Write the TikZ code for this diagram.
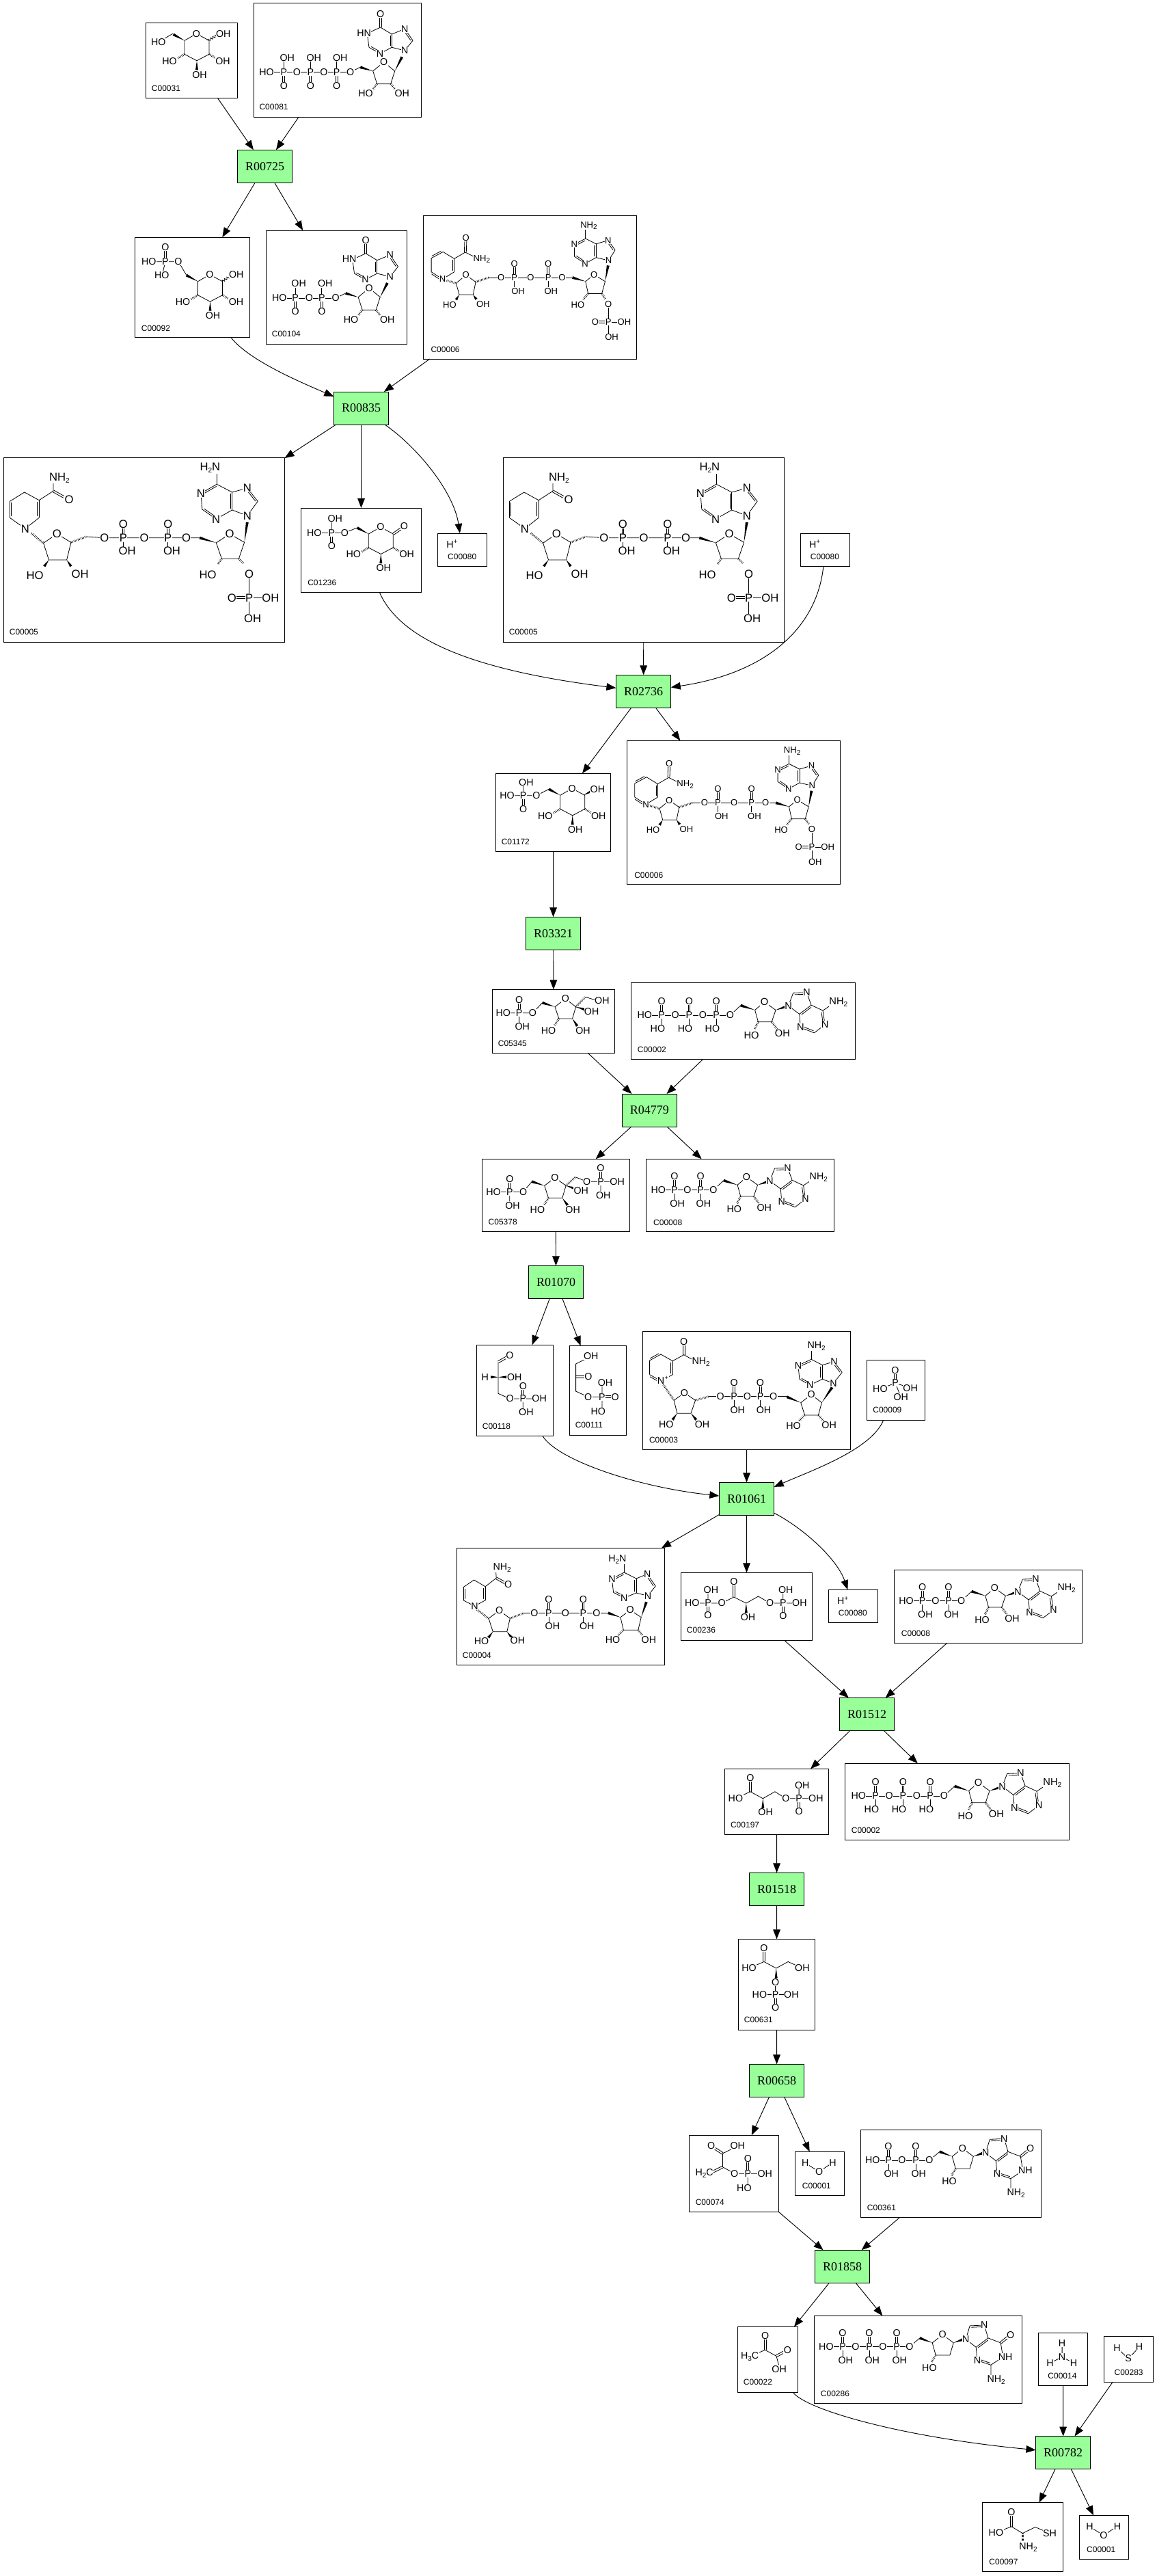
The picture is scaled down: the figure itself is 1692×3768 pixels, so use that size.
\documentclass[tikz,border=0pt]{standalone}
\usepackage{fontspec}
\setmainfont{Liberation Sans}
\newfontfamily\rxnfont{Liberation Serif}
\usetikzlibrary{arrows.meta,calc,decorations.pathmorphing}
\newcounter{atomno}
\def\atomsz{10.7}
\newcommand\sbs[1]{\raisebox{-.22em}{\fontsize{7.5}{8}\selectfont #1}}
\newcommand\sps[1]{\raisebox{.4em}{\fontsize{7.5}{8}\selectfont #1}}
\definecolor{rxngreen}{RGB}{153,255,153}
\tikzset{
  cpdbox/.style={draw,line width=.75pt,inner sep=0pt,outer sep=0pt},
  rxn/.style={draw,line width=.75pt,fill=rxngreen,inner sep=0pt,outer sep=0pt,minimum width=60.3pt,minimum height=36pt,font=\rxnfont\fontsize{13.5}{14}\selectfont},
  idlab/.style={anchor=west,inner sep=0pt,font=\fontsize{9}{10}\selectfont},
  atomlab/.style={fill=white,inner sep=.3pt,font=\fontsize{\atomsz}{\atomsz}\selectfont},
  bondln/.style={line width=.6pt},
  hashln/.style={line width=2.2pt,dash pattern=on .5pt off 1.1pt},
  rxnedge/.style={->,line width=.7pt},
  >={Triangle[length=10.5pt,width=8pt]}
}
% molecule bits
\newcommand\atmnode[2]{\stepcounter{atomno}\node[atomlab] (atom\theatomno) at (#1) {#2};}
\newcommand\atm{}
\newcommand\dbl[2]{\draw[bondln] ($(#1)!1.1pt!90:(#2)$) -- ($(#2)!1.1pt!-90:(#1)$); \draw[bondln] ($(#1)!1.1pt!-90:(#2)$) -- ($(#2)!1.1pt!90:(#1)$);}
\newcommand\dbi[2]{\draw[bondln] (#1) -- (#2); \draw[bondln,shorten <=1.5pt,shorten >=1.5pt] ($(#1)!1.8pt!90:(#2)$) -- ($(#2)!1.8pt!-90:(#1)$);}
\newcommand\wdg[2]{\fill (#1) -- ($(#2)!1.5pt!90:(#1)$) -- ($(#2)!1.5pt!-90:(#1)$) -- cycle;}
\newcommand\hsh[2]{\draw[hashln] (#1) -- (#2);}
\newcommand\wavy[2]{\draw[bondln,decorate,decoration={zigzag,segment length=3pt,amplitude=1.2pt}] (#1) -- (#2);}
\newcommand\phos[4][4.2]{\dbl{#2,#3}{#2,#3-20}\draw[bondln] (#2,#3) -- (#2,#3+14);\atm{#2,#3}{P}\atm{#2,#3-20}{O}\atm{#2+#1,#3+19.5}{#4}}
\newcommand\phosu[2]{\dbl{#1,#2}{#1,#2+20}\draw[bondln] (#1,#2) -- (#1,#2-15);\atm{#1,#2}{P}\atm{#1,#2+20}{O}\atm{#1+5,#2-21}{OH}}
\newcommand\ribose[5]{\draw[bondln] (#1) -- (#2) -- (#3) -- (#4) -- (#5) -- cycle;\atm{#2}{O}}
\newcommand\pyran[2]{\begin{scope}[shift={(#1,#2)}]
  \draw[bondln] (0,0) -- (17.5,-10) -- (36,0) -- (36,20) -- (18,29.5) -- (0,20) -- cycle;
  \wdg{0,0}{-16.5,-9}\hsh{36,20}{46,26}\wdg{18,29.5}{18,43}\hsh{0,20}{-10,26}
  \atm{17.5,-10}{O}\atm{56,30}{OH}\atm{22,50}{OH}\atm{-22,30}{HO}
\end{scope}}
\newcommand\adeninerd[9]{\draw[bondln] (#1) -- (#2) (#3) -- (#4) (#5) -- (#1) (#4) -- (#6) (#7) -- (#8) (#9) -- (#5);
  \dbi{#2}{#3}\dbi{#5}{#4}\dbi{#6}{#7}\dbi{#8}{#9}
  \atm{#1}{N}\atm{#3}{N}\atm{#7}{N}\atm{#9}{N}}
\newcommand\adenosine{\draw[bondln] (98.3,45.4) -- (113.3,31.4);
  \wdg{133.5,38}{113.3,31.4}\ribose{133.5,38}{146.9,26.4}{163,38}{157.3,54.7}{138.1,54.7}
  \wdg{163,38}{178,33}\hsh{138.1,54.7}{133,65}\hsh{157.3,54.7}{165,65}
  \atm{128.6,73.7}{HO}\atm{172.6,71}{OH}
  \draw[bondln] (181,32) -- (187.9,13.7) (207,13) -- (213.5,31) (196.7,43.7) -- (181,32) (196.7,43.7) -- (198.2,62.7) (217.7,70.4) -- (233,58.7) (230,38.7) -- (213.5,31) (230,38.7) -- (241.5,31);
  \dbi{207,13}{187.9,13.7}\dbi{213.5,31}{196.7,43.7}\dbi{198.2,62.7}{217.7,70.4}\dbi{233,58.7}{230,38.7}
  \atm{181,32}{N}\atm{207,13}{N}\atm{198.2,62.7}{N}\atm{233,58.7}{N}\atm{252.2,27}{NH\sbs{2}}}
\newcommand\inosine{\draw[bondln] (141.4,100.3) -- (156,93.3);
  \wdg{174.4,99}{156,93.3}\ribose{174.4,99}{190.4,85.7}{206.4,99}{200.4,117.7}{180.4,117.7}
  \wdg{206.4,99}{217,78.3}\hsh{180.4,117.7}{174,126}\hsh{200.4,117.7}{207,126}
  \atm{163.7,131.7}{HO}\atm{217,131.7}{OH}
  \draw[bondln] (221,69) -- (232.7,54.3) (221,37.3) -- (202,45) (202,64.3) -- (221,69) (202,45) -- (185.4,35) (185.4,35) -- (166,44) -- (168.7,64.3) (184.7,73.3) -- (202,64.3);
  \dbi{232.7,54.3}{221,37.3}\dbi{202,64.3}{202,45}\dbi{168.7,64.3}{184.7,73.3}\dbl{185.4,35}{185.4,16}
  \atm{221,69}{N}\atm{221,37.3}{N}\atm{184.7,73.3}{N}\atm{185.4,16}{O}\atm{161.4,43.3}{HN}}
\newcommand\guanosine{\draw[bondln] (100.7,44.7) -- (115.7,32);
  \wdg{134,39}{115.7,32}\ribose{134,39}{149,27}{165,39}{159.7,57}{139,57}
  \wdg{165,39}{179,34}\hsh{139,57}{133,67}\atm{129.7,75.4}{HO}
  \draw[bondln] (183,33.7) -- (189,14) (210,13) -- (215.7,32) (198,45.4) -- (183,33.7) (198,45.4) -- (199.7,64.7) (219.7,71.4) -- (237.4,59.7) -- (234,39) -- (215.7,32) (219.7,71.4) -- (219.7,87);
  \dbi{210,13}{189,14}\dbi{215.7,32}{198,45.4}\dbi{199.7,64.7}{219.7,71.4}\dbl{234,39}{248.4,27.4}
  \atm{183,33.7}{N}\atm{210,13}{N}\atm{199.7,64.7}{N}\atm{241,59.7}{NH}\atm{248.4,27.4}{O}\atm{227.4,93}{NH\sbs{2}}}
\newcommand\adpmol{\draw[bondln] (17.6,45.4) -- (98.3,45.4);
  \atm{17.6,45.4}{HO}\phos{41.3}{45.4}{OH}\atm{60.4,45.4}{O}\phos{79.6}{45.4}{OH}\atm{98.3,45.4}{O}\adenosine}
\newcommand\atpmol{\draw[bondln] (19.9,47.7) -- (145,47.7);
  \atm{19.9,47.7}{HO}\phos[-5.8]{44.8}{47.7}{HO}\atm{64.7,47.7}{O}\phos[-5.8]{85}{47.7}{HO}\atm{104.9,47.7}{O}\phos[-5.8]{124.8}{47.7}{HO}\atm{145,47.7}{O}
  \begin{scope}[shift={(43.75,1)},scale=1.03,transform shape]\adenosine\end{scope}}
\newcommand\nadphh{\def\atomsz{12.5}
  % reduced ring
  \draw[bondln] (31.5,104.3) -- (9,88.3) (9,64.3) -- (30.4,51) -- (51.8,62.7) (51.8,88.3) -- (31.5,104.3) (51.8,62.7) -- (72.5,49.3) -- (72.5,36);
  \dbi{9,64.3}{9,88.3}\dbi{51.8,88.3}{51.8,62.7}\dbl{72.5,49.3}{88,58}
  \atm{31.5,104.3}{N}\atm{95.7,61.7}{O}\atm{81.5,30.3}{NH\sbs{2}}
  \hsh{40.4,111}{58.2,125.3}\ribose{58.2,125.3}{77.9,112}{98.6,124.3}{92.2,150}{66.1,150}
  \wdg{66.1,150}{59.3,159.3}\wdg{92.2,150}{98.6,159.3}\atm{45.7,172.7}{HO}\atm{111.8,170.3}{OH}
  \hsh{98.6,124.3}{120.7,116}
  \draw[bondln] (120.7,116) -- (147.5,117.7) -- (286.8,117.7);
  \atm{147.5,117.7}{O}\phos[5.7]{175}{117.7}{OH}\atm{205.7,117.7}{O}\phos[5.7]{240.4}{117.7}{OH}\atm{267.2,117.7}{O}
  \wdg{311,125}{286.8,117.7}\ribose{311,125}{330.7,112}{352.2,124.3}{344,148.3}{319,148.3}
  \wdg{352.2,124.3}{356.4,95}\hsh{319,148.3}{313.6,156}\hsh{344,148.3}{351.1,155.3}\atm{298.6,171.7}{HO}
  \adeninerd{356.4,85.3}{371.8,64.3}{356.4,45}{334.3,51}{334.3,77}{311.8,39.3}{288.6,52.7}{290.4,76}{310.8,90.3}
  \draw[bondln] (311.8,39.3) -- (311.8,24.3);\atm{302,15.3}{H\sbs{2}N}
  \draw[bondln] (359.3,170.3) -- (359.3,235) (359.3,205.3) -- (390.4,205.3);
  \dbl{334,205.3}{359.3,205.3}\atm{359.3,170.3}{O}\atm{359.3,205.3}{P}\atm{334,205.3}{O}\atm{390.4,205.3}{OH}\atm{364.3,235.3}{OH}}
\newcommand\nadpplus{\def\atomsz{9.8}
  \draw[bondln] (27.9,93.4) -- (45.1,82.7) (11.5,82.7) -- (11.5,62.7) (28.7,53.4) -- (45.1,63.4) (45.1,63.4) -- (61.2,54);
  \dbi{27.9,93.4}{11.5,82.7}\dbi{11.5,62.7}{28.7,53.4}\dbi{45.1,82.7}{45.1,63.4}
  \dbl{61.2,54}{62,33.4}\draw[bondln] (61.2,54) -- (77,62);\atm{62,33.4}{O}\atm{85.3,64}{NH\sbs{2}}
  \hsh{27.9,93.4}{47.8,99.4}\ribose{47.8,99.4}{62,87.4}{76.5,97.4}{72.7,116}{52.4,116}\atm{27.9,93.4}{N}
  \wdg{52.4,116}{47.8,123.4}\wdg{72.7,116}{77.3,122.7}\atm{38.3,131}{HO}\atm{87.2,130}{OH}
  \hsh{76.5,97.4}{95.7,91}
  \draw[bondln] (95.7,91) -- (218,91);
  \atm{113.6,91}{O}\phos[5.3]{133.2}{91}{OH}\atm{156.9,91}{O}\phos[4.2]{182.5}{91}{OH}\atm{202.8,91}{O}
  \wdg{237.2,96.7}{218,91}\ribose{237.2,96.7}{249.5,86.7}{265.9,96.7}{261,114.4}{241,114.4}
  \wdg{265.9,96.7}{270.2,73.4}\hsh{241,114.4}{234,123}\hsh{261,114.4}{266,122}\atm{225.8,130.7}{HO}
  \adeninerd{271,66}{280.5,50.7}{270.2,36.7}{252.6,41.7}{252.6,61.7}{237.2,34}{220.8,42.4}{220.8,60}{236.5,70.7}
  \draw[bondln] (237.2,34) -- (237.2,20);\atm{241.9,15}{NH\sbs{2}}
  \draw[bondln] (270.6,130) -- (270.6,178) (270.6,156) -- (293.9,156);\dbl{251.4,156}{270.6,156}
  \atm{270.6,130}{O}\atm{270.6,156}{P}\atm{251.4,156}{O}\atm{293.9,156}{OH}\atm{275.5,178}{OH}}
\newcommand\hplus{\atm{20.8,15.7}{H\sps{+}}}
\newcommand\water{\draw[bondln] (15,16.5) -- (35.4,29.3) -- (55.4,15.8);\atm{15,16.5}{H}\atm{35.4,29.3}{O}\atm{55.4,15.8}{H}}
% name, x1, y1, x2, y2, id text, id x, id y, molecule: bonds first, then the atoms over them
\def\eatpath#1;{}
\def\eatatom#1#2{}
\newcommand\cmpd[9]{\node[cpdbox,minimum width={(#4-#2)*0.75pt},minimum height={(#5-#3)*0.75pt}] (#1) at ({(#2+#4)/2},{(#3+#5)/2}) {};
  \begin{scope}[shift={(#2,#3)}]\node[idlab] (#1id) at (#7,#8) {#6};
    \begin{scope}\let\atm\eatatom #9\end{scope}
    \begin{scope}\let\atm\atmnode\let\draw\eatpath\let\fill\eatpath #9\end{scope}
  \end{scope}}
\begin{document}
\begin{tikzpicture}[x=.75pt,y=-.75pt]
  \useasboundingbox (0,0) rectangle (1692,3768);
  % compounds, top to bottom
  \cmpd{C00031}{213.3}{33.3}{347.3}{143.3}{C00031}{8.4}{95.7}{\pyran{56.7}{26}
    \draw[bondln] (39.4,16) -- (18.4,28.4);\atm{18.4,28.4}{HO}\wavy{91,26}{105,18}\atm{113.4,16}{OH}}
  \cmpd{C00081}{371.3}{5}{616.7}{171.7}{C00081}{8}{151.7}{\draw[bondln] (18.7,100.3) -- (141.4,100.3);
    \atm{18.7,100.3}{HO}\phosu{44}{100.3}\atm{63,100.3}{O}\phosu{83}{100.3}\atm{102.7,100.3}{O}\phosu{121.4}{100.3}\atm{141.4,100.3}{O}\inosine}
  \cmpd{C00092}{197.5}{347}{365.7}{493}{C00092}{9.2}{133}{\pyran{92}{64.7}
    \draw[bondln] (75.5,55.7) -- (63.5,35.7) -- (20.3,35.7) (44.5,35.7) -- (41,50);\dbl{44.5,35.7}{44.5,14.7}
    \atm{44.5,14.7}{O}\atm{44.5,35.7}{P}\atm{20.3,35.7}{HO}\atm{39.2,55.3}{HO}\atm{63.5,35.7}{O}\wavy{127.9,64.7}{139,57}\atm{148.3,54.7}{OH}}
  \cmpd{C00104}{389.4}{337}{595.4}{503}{C00104}{8.2}{151.3}{\draw[bondln] (19.4,99) -- (101.8,99);
    \atm{19.4,99}{HO}\phosu{42.7}{99}\atm{63,99}{O}\phosu{81.4}{99}\atm{101.8,99}{O}
    \begin{scope}[shift={(-39.6,-1.3)}]\inosine\end{scope}}
  \cmpd{C00006a}{619.6}{315}{931}{525}{C00006}{10.7}{196.7}{\nadpplus}
  \cmpd{C00005a}{5.4}{669}{416.5}{939}{C00005}{8.2}{255}{\nadphh}
  \cmpd{C01236}{440.6}{743}{616.5}{866}{C01236}{9.4}{109.3}{\pyran{98.7}{38}
    \draw[bondln] (82,29) -- (63.9,36.3) -- (19.2,36.3) (44.7,36.3) -- (44.7,20);\dbl{44.7,36.3}{44.7,56}\dbl{135,38}{150.9,27}
    \atm{49.6,16}{OH}\atm{44.7,36.3}{P}\atm{19.2,36.3}{HO}\atm{44.7,56}{O}\atm{63.9,36.3}{O}\atm{150.9,27}{O}}
  \cmpd{C00080a}{640.6}{780}{712.5}{828.6}{C00080}{14.3}{34}{\hplus}
  \cmpd{C00005b}{736.4}{669}{1147.5}{939}{C00005}{8.2}{255}{\nadphh}
  \cmpd{C00080b}{1171.4}{780}{1243.6}{828.6}{C00080}{14.3}{34}{\hplus}
  \cmpd{C01172}{725.5}{1131.3}{893.5}{1245.3}{C01172}{8}{100.4}{\pyran{94.2}{32}
    \draw[bondln] (77.7,23) -- (59.4,32.4) -- (16.5,32.4) (40.2,32.4) -- (40.2,18);\dbl{40.2,32.4}{40.2,52}\wdg{128,32}{141,25.4}
    \atm{44.4,13}{OH}\atm{40.2,32.4}{P}\atm{16.5,32.4}{HO}\atm{40.2,52}{O}\atm{59.4,32.4}{O}\atm{148.9,23}{OH}}
  \cmpd{C00006b}{917.3}{1083.3}{1229.6}{1293.3}{C00006}{10.7}{196.7}{\nadpplus}
  \cmpd{C05345}{720.6}{1447.3}{899.7}{1540.3}{C05345}{8}{78.7}{\draw[bondln] (15.7,34.4) -- (58.9,34.4) -- (73,19.4) (39,34.4) -- (39,50);
    \dbl{39,34.4}{39,15.4}\wdg{91.4,25.4}{73,19.4}\ribose{91.4,25.4}{106.7,13.7}{122,25.4}{117,42.7}{97.2,42.7}
    \hsh{122,25.4}{136.2,11}\draw[bondln] (136.2,11) -- (152,16);\wdg{122,25.4}{135.4,29.4}\wdg{117,42.7}{124,53.4}\hsh{97.2,42.7}{90.3,53.4}
    \atm{15.7,34.4}{HO}\atm{39,34.4}{P}\atm{39,15.4}{O}\atm{43.6,54.4}{OH}\atm{58.9,34.4}{O}\atm{160.3,16}{OH}\atm{145,32}{OH}\atm{132.4,60}{OH}\atm{81.9,60}{HO}}
  \cmpd{C00002a}{923.4}{1437.3}{1251.7}{1549.3}{C00002}{9.2}{97.7}{\atpmol}
  \cmpd{C05378}{705.3}{1695.3}{921.5}{1801.3}{C05378}{9.1}{92.4}{\draw[bondln] (16.8,48) -- (60.4,48) -- (73,33) (40.5,48) -- (40.5,62);
    \dbl{40.5,48}{40.5,29}\wdg{91.4,39}{73,33}\ribose{91.4,39}{106.7,27.4}{122.8,39}{117.5,57}{97.2,57}
    \hsh{122.8,39}{136.6,26.4}\draw[bondln] (136.6,26.4) -- (153.4,33) -- (197.8,33) (173.7,33) -- (173.7,47);\dbl{173.7,33}{173.7,13.7}
    \wdg{122.8,39}{135.4,43}\wdg{117.5,57}{125.1,67.4}\hsh{97.2,57}{91,67}
    \atm{16.8,48}{HO}\atm{40.5,48}{P}\atm{40.5,29}{O}\atm{44.7,68}{OH}\atm{60.4,48}{O}\atm{145,46.4}{OH}\atm{153.4,33}{O}\atm{173.7,33}{P}\atm{173.7,13.7}{O}\atm{197.8,33}{OH}\atm{177.5,53}{OH}\atm{81.1,74}{HO}\atm{132.8,74}{OH}}
  \cmpd{C00008a}{945.6}{1695.3}{1220.8}{1801.3}{C00008}{10.3}{92.7}{\adpmol}
  \cmpd{C00118}{697.2}{1967.3}{809.7}{2100.3}{C00118}{8.4}{118.7}{\draw[bondln] (31.8,47) -- (31.8,25) (31.8,47) -- (31.8,71) -- (49,78.7) -- (91.9,78.7) (68.1,78.7) -- (68.1,92);
    \dbl{31.8,25}{48.6,15.4}\wdg{31.8,47}{21,47}\wdg{31.8,47}{44,47}\dbl{68.1,78.7}{68.1,60}
    \atm{48.6,15.4}{O}\atm{12.6,47}{H}\atm{55.5,47}{OH}\atm{49,78.7}{O}\atm{68.1,78.7}{P}\atm{68.1,60}{O}\atm{91.9,78.7}{OH}\atm{72.7,98.7}{OH}}
  \cmpd{C00111}{833.5}{1968.3}{916.5}{2099.3}{C00111}{8}{115.7}{\draw[bondln] (31.3,15.7) -- (9.1,26.7) -- (9.1,66.7) -- (27.1,75) -- (47.4,75) (47.4,54) -- (47.4,92);
    \dbl{9.1,45.7}{27.5,45.7}\dbl{47.4,75}{66.6,75}
    \atm{31.3,15.7}{OH}\atm{27.5,45.7}{O}\atm{27.1,75}{O}\atm{47.4,75}{P}\atm{52,54}{OH}\atm{66.6,75}{O}\atm{41.7,96}{HO}}
  \cmpd{C00003}{940.2}{1947.3}{1244.9}{2120.3}{C00003}{9.6}{158.7}{
    \draw[bondln] (26.8,72.7) -- (44,63.4) (10.4,63.4) -- (10.4,42.7) (26.8,33.7) -- (44,43.4) -- (60.5,34.4) -- (78,44);
    \dbi{26.8,72.7}{10.4,63.4}\dbi{10.4,42.7}{26.8,33.7}\dbi{44,63.4}{44,43.4}\dbl{60.5,34.4}{60.5,15}
    \atm{60.5,15}{O}\atm{85.4,44.4}{NH\sbs{2}}
    \hsh{26.8,72.7}{46,101}\ribose{46,101}{61.3,90}{77.3,101}{70.8,120}{50.6,120}\atm{26.8,72.7}{N}\atm{35.2,68.7}{\fontsize{7}{8}\selectfont +}
    \wdg{50.6,120}{44,129.4}\wdg{70.8,120}{78.5,129.4}\atm{34.5,136}{HO}\atm{87.3,136}{OH}
    \hsh{77.3,101}{96.5,95.4}\draw[bondln] (96.5,95.4) -- (211.3,95.4);
    \atm{114,95.4}{O}\phos[5]{134}{95.4}{OH}\atm{153.1,95.4}{O}\phos[5]{172.3}{95.4}{OH}\atm{191.4,95.4}{O}
    \wdg{231.6,104.4}{211.3,96}\ribose{231.6,104.4}{246.9,92.7}{262.2,104.4}{257.2,122.7}{237.3,122.7}
    \wdg{262.2,104.4}{277.5,82}\hsh{237.3,122.7}{229,131}\hsh{257.2,122.7}{265,131}\atm{220.9,138.7}{HO}\atm{272.9,137.7}{OH}
    \adeninerd{279.4,76}{292,60}{280.2,44.4}{263,49.4}{263,70}{246.9,41}{227.7,50}{229.7,70}{245,78.7}
    \draw[bondln] (246.9,41) -- (246.9,27.7);\atm{254.5,22}{NH\sbs{2}}}
  \cmpd{C00009}{1268.4}{1989.6}{1353.4}{2077.3}{C00009}{8.7}{73.2}{\draw[bondln] (19.5,42.1) -- (41.6,33.4) -- (63.7,40.7) (41.6,33.4) -- (49.8,53.8);
    \dbl{41.6,33.4}{41.6,15}\atm{41.6,15}{O}\atm{41.6,33.4}{P}\atm{19.5,42.1}{HO}\atm{63.7,40.7}{OH}\atm{49.8,53.8}{OH}}
  \cmpd{C00004}{668.6}{2264.3}{972.6}{2435.3}{C00004}{8}{156.7}{
    \draw[bondln] (25.9,85) -- (9.3,76.4) (9.3,57.4) -- (25,46.7) -- (41.5,56.4) (41.5,76.4) -- (25.9,85) (41.5,56.4) -- (57.6,44) -- (57,34);
    \dbi{9.3,57.4}{9.3,76.4}\dbi{41.5,76.4}{41.5,56.4}\dbl{57.6,44}{72,52}
    \atm{25.9,85}{N}\atm{75,53}{O}\atm{66,28.4}{NH\sbs{2}}
    \hsh{29,90}{46.4,103}\ribose{46.4,103}{62,91.4}{77.7,103}{73.2,122.4}{52.7,122.4}
    \wdg{52.7,122.4}{46,131}\wdg{73.2,122.4}{80,131}\atm{36,136.7}{HO}\atm{88.8,135.7}{OH}
    \hsh{77.7,103}{96.4,95.7}\draw[bondln] (96.4,95) -- (221.4,95);
    \atm{113.4,95}{O}\phos[5.5]{134.3}{95}{OH}\atm{158.9,95}{O}\phos[5.4]{184.8}{95}{OH}\atm{204.4,95}{O}
    \wdg{239.3,101.4}{221.4,95}\ribose{239.3,101.4}{253.5,90.7}{269.6,101.4}{265.2,120}{243.7,120}
    \wdg{269.6,101.4}{277.2,79}\hsh{243.7,120}{236,128}\hsh{265.2,120}{272,128}\atm{228,134.7}{HO}\atm{280.8,134.7}{OH}
    \adeninerd{279.4,70}{290.6,55.7}{278.6,38}{262.5,44.7}{262.5,65.7}{244.6,35.7}{226.8,45}{229,65}{244.6,73}
    \draw[bondln] (244.6,35.7) -- (244.6,24);\atm{234.8,16.4}{H\sbs{2}N}}
  \cmpd{C00236}{996.3}{2300.3}{1188.7}{2399.3}{C00236}{8.4}{83.7}{\draw[bondln] (16.5,44.7) -- (59.8,44.7) -- (77.6,35.7) -- (95.5,44.7) -- (113.3,34.7) -- (130.3,44.7) -- (173.6,44.7) (39.7,44.7) -- (39.7,30) (149.5,44.7) -- (149.5,30);
    \dbl{39.7,44.7}{39.7,62}\dbl{77.6,35.7}{77.6,13.7}\wdg{95.5,44.7}{95.5,59}\dbl{149.5,44.7}{149.5,63.7}
    \atm{16.5,44.7}{HO}\atm{39.7,44.7}{P}\atm{44.1,25.7}{OH}\atm{39.7,62}{O}\atm{59.8,44.7}{O}\atm{77.6,13.7}{O}\atm{98.2,65.4}{OH}\atm{130.3,44.7}{O}\atm{149.5,44.7}{P}\atm{153.5,25.7}{OH}\atm{173.6,44.7}{OH}\atm{149.5,63.7}{O}}
  \cmpd{C00080c}{1212.3}{2325.3}{1284.6}{2373.3}{C00080}{14.3}{34}{\hplus}
  \cmpd{C00008b}{1308.4}{2296.3}{1583.5}{2403.3}{C00008}{10.3}{92.7}{\adpmol}
  \cmpd{C00197}{1060.4}{2587.3}{1212.7}{2683.3}{C00197}{8.4}{82}{\draw[bondln] (16,43.4) -- (37.5,33.4) -- (55.9,43.4) -- (73.5,33.4) -- (89.5,43.4) -- (133.5,43.4) (108.7,43.4) -- (108.7,28);
    \dbl{37.5,33.4}{37.5,13.4}\wdg{55.9,43.4}{55.9,57.7}\dbl{108.7,43.4}{108.7,62}
    \atm{37.5,13.4}{O}\atm{16,43.4}{HO}\atm{59.7,63.4}{OH}\atm{89.5,43.4}{O}\atm{108.7,43.4}{P}\atm{113.3,24.4}{OH}\atm{133.5,43.4}{OH}\atm{108.7,62}{O}}
  \cmpd{C00002b}{1236.4}{2579.3}{1564.8}{2691.3}{C00002}{9.2}{97.7}{\atpmol}
  \cmpd{C00631}{1080.4}{2836.3}{1192.5}{2969.3}{C00631}{8.2}{118.5}{\draw[bondln] (15.7,42.7) -- (37.5,33.1) -- (55.3,42.7) -- (72.8,33.1) -- (93.5,42.7) (54.2,63) -- (54.2,81.3) (31,81.3) -- (77.5,81.3);
    \dbl{37.5,33.1}{37.5,13.1}\wdg{55.3,42.7}{55.3,57.2}\dbl{54.2,81.3}{54.2,100.2}
    \atm{37.5,13.1}{O}\atm{15.7,42.7}{HO}\atm{93.5,42.7}{OH}\atm{54.2,63}{O}\atm{54.2,81.3}{P}\atm{31,81.3}{HO}\atm{77.5,81.3}{OH}\atm{54.2,100.2}{O}}
  \cmpd{C00074}{1008.2}{3123.2}{1139.6}{3235.5}{C00074}{9.3}{97.8}{\draw[bondln] (49.3,26.8) -- (71.1,15.8) (49.3,26.8) -- (49.3,46.5) -- (66.4,56.1) -- (111.1,56.1) (86.1,56.1) -- (86.1,72);
    \dbl{49.3,26.8}{32.5,15.8}\dbl{49.3,46.5}{30,56}\dbl{86.1,56.1}{86.1,34.8}
    \atm{32.5,15.8}{O}\atm{71.1,15.8}{OH}\atm{22.5,56.1}{H\sbs{2}C}\atm{66.4,56.1}{O}\atm{86.1,56.1}{P}\atm{86.1,34.8}{O}\atm{111.1,56.1}{OH}\atm{80.7,77.5}{HO}}
  \cmpd{C00001a}{1163.2}{3147.3}{1235.7}{3211.3}{C00001}{10.4}{49.9}{\water}
  \cmpd{C00361}{1259.3}{3115.3}{1523.7}{3243.3}{C00361}{9.4}{114}{\draw[bondln] (17.4,44.7) -- (100.7,44.7);
    \atm{17.4,44.7}{HO}\phos{40.7}{44.7}{OH}\atm{60.7,44.7}{O}\phos{80.7}{44.7}{OH}\atm{100.7,44.7}{O}\guanosine}
  \cmpd{C00022}{1079.5}{3403.3}{1167.5}{3499.3}{C00022}{8.2}{81.1}{\draw[bondln] (26,40) -- (40.1,34) -- (56.5,43) (56.5,43) -- (60,56);
    \dbl{40.1,34}{40.1,13.4}\dbl{56.5,43}{72.9,34}
    \atm{40.1,13.4}{O}\atm{17.6,43.8}{H\sbs{3}C}\atm{72.9,34}{O}\atm{60.6,62.3}{OH}}
  \cmpd{C00286}{1191.3}{3387.3}{1495.5}{3515.2}{C00286}{9.4}{114}{\draw[bondln] (17.6,45.3) -- (139.6,45.3);
    \atm{17.6,45.3}{HO}\phos{41.7}{45.3}{OH}\atm{60.6,45.3}{O}\phos{80.7}{45.3}{OH}\atm{100.7,45.3}{O}\phos{120.8}{45.3}{OH}\atm{139.6,45.3}{O}
    \begin{scope}[shift={(38.9,.6)}]\guanosine\end{scope}}
  \cmpd{C00014}{1519.3}{3412.7}{1591.8}{3489.5}{C00014}{13.9}{62.7}{\draw[bondln] (34.8,14.5) -- (34.8,34.8) (17.2,43.8) -- (34.8,34.8) -- (51.6,43.8);
    \atm{34.8,14.5}{H}\atm{34.8,34.8}{N}\atm{17.2,43.8}{H}\atm{51.6,43.8}{H}}
  \cmpd{C00283}{1615.5}{3417.4}{1687.6}{3484.4}{C00283}{14.8}{52.5}{\draw[bondln] (18.9,17) -- (35.6,32.6) -- (51.6,15.6);
    \atm{18.9,17}{H}\atm{35.6,32.6}{S}\atm{51.6,15.6}{H}}
  \cmpd{C00097}{1437.4}{3660.5}{1555.3}{3761.2}{C00097}{9.8}{86.6}{\draw[bondln] (20,43.9) -- (42.6,35.2) -- (59,45) -- (77.4,35.9) -- (98.7,45);
    \dbl{42.6,35.2}{42.6,14.1}\hsh{59,45}{59,57.6}
    \atm{42.6,14.1}{O}\atm{20,43.9}{HO}\atm{67.1,65.6}{NH\sbs{2}}\atm{98.7,45}{SH}}
  \cmpd{C00001b}{1579.5}{3679.3}{1651.6}{3743.5}{C00001}{10.4}{49.9}{\water}
  % reactions
  \node[rxn] (R00725) at (387.5,243.3) {R00725};
  \node[rxn] (R00835) at (528.5,597) {R00835};
  \node[rxn] (R02736) at (941.6,1011.3) {R02736};
  \node[rxn] (R03321) at (809.6,1365.3) {R03321};
  \node[rxn] (R04779) at (950.3,1624) {R04779};
  \node[rxn] (R01070) at (813.5,1875.3) {R01070};
  \node[rxn] (R01061) at (1092.5,2192.3) {R01061};
  \node[rxn] (R01512) at (1268.6,2507.5) {R01512};
  \node[rxn] (R01518) at (1136.6,2763.3) {R01518};
  \node[rxn] (R00658) at (1136.6,3043.3) {R00658};
  \node[rxn] (R01858) at (1232.6,3315.2) {R01858};
  \node[rxn] (R00782) at (1555.7,3587.5) {R00782};
  % straight edges
  \foreach \a/\b in {C00031/R00725,C00081/R00725,R00725/C00092,R00725/C00104,C00006a/R00835,R00835/C00005a,R00835/C01236,
    C00005b/R02736,R02736/C01172,R02736/C00006b,C01172/R03321,R03321/C05345,C05345/R04779,C00002a/R04779,R04779/C05378,R04779/C00008a,
    C05378/R01070,R01070/C00118,R01070/C00111,C00003/R01061,R01061/C00004,R01061/C00236,C00236/R01512,C00008b/R01512,
    R01512/C00197,R01512/C00002b,C00197/R01518,R01518/C00631,C00631/R00658,R00658/C00074,R00658/C00001a,
    C00074/R01858,C00361/R01858,R01858/C00022,R01858/C00286,C00014/R00782,C00283/R00782,R00782/C00097,R00782/C00001b}
    \draw[rxnedge] (\a) -- (\b);
  % curved edges
  \draw[rxnedge] (C00092) .. controls (362,525) and (430,555) .. (R00835);
  \draw[rxnedge] (R00835) .. controls (612,655) and (664,720) .. (C00080a);
  \draw[rxnedge] (C01236) .. controls (585,935) and (690,980) .. (R02736);
  \draw[rxnedge] (C00080b) .. controls (1195,920) and (1120,985) .. (R02736);
  \draw[rxnedge] (C00118) .. controls (815,2135) and (930,2175) .. (R01061);
  \draw[rxnedge] (C00009) .. controls (1275,2120) and (1190,2150) .. (R01061);
  \draw[rxnedge] (R01061) .. controls (1175,2235) and (1225,2280) .. (C00080c);
  \draw[rxnedge] (C00022) .. controls (1180,3525) and (1320,3565) .. (R00782);
\end{tikzpicture}
\end{document}
